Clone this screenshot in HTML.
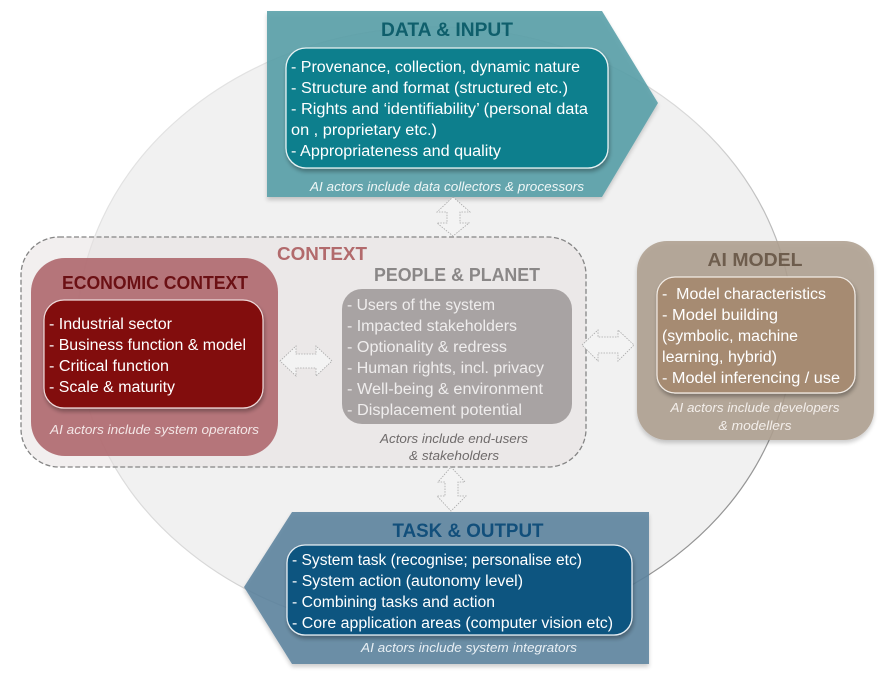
<!DOCTYPE html>
<html><head><meta charset="utf-8"><style>
html,body{margin:0;padding:0;background:#fff}
svg{display:block;filter:blur(0.35px)}
text{font-family:"Liberation Sans",sans-serif}
.b{font-weight:700}
.w{fill:#fff;font-size:15.5px}
.p{fill:#efeded;font-size:15.5px}
.i{font-style:italic;font-size:12.5px}
</style></head><body>
<svg width="887" height="676" viewBox="0 0 887 676" xmlns="http://www.w3.org/2000/svg">
<defs>
<filter id="s" x="-10%" y="-10%" width="120%" height="125%"><feGaussianBlur in="SourceAlpha" stdDeviation="2.2"/><feOffset dx="1" dy="3"/><feComponentTransfer><feFuncA type="linear" slope="0.32"/></feComponentTransfer><feMerge><feMergeNode/><feMergeNode in="SourceGraphic"/></feMerge></filter>
<filter id="o" x="-10%" y="-10%" width="120%" height="125%"><feGaussianBlur in="SourceAlpha" stdDeviation="2"/><feOffset dx="0" dy="3"/><feComponentTransfer><feFuncA type="linear" slope="0.22"/></feComponentTransfer><feMerge><feMergeNode/><feMergeNode in="SourceGraphic"/></feMerge></filter>
<linearGradient id="eg" x1="0" y1="0" x2="1" y2="0.9"><stop offset="0" stop-color="#e6e6e6"/><stop offset="0.55" stop-color="#d8d8d8"/><stop offset="1" stop-color="#7f7f7f"/></linearGradient>
</defs>
<ellipse cx="435" cy="331" rx="358" ry="304" fill="#f1f1f1" stroke="url(#eg)" stroke-width="1.2"/>

<rect x="21" y="237" width="565" height="230" rx="38" fill="#e6dfdf" fill-opacity="0.5" stroke="#858585" stroke-width="1.3" stroke-dasharray="5 2.5"/>

<!-- Data & input -->
<g filter="url(#o)"><polygon points="267,11 602,11 658,103 602,197 267,197" fill="#569ea7" fill-opacity="0.88"/></g>
<rect x="286" y="48" width="322" height="120" rx="20" fill="#0e7f8d" stroke="#e6f2f3" stroke-width="1.3" filter="url(#s)"/>
<text x="447" y="36" text-anchor="middle" class="b" font-size="19" fill="#0f5f6c" textLength="132" lengthAdjust="spacingAndGlyphs">DATA &amp; INPUT</text>
<text x="291" y="72" class="w" textLength="289" lengthAdjust="spacingAndGlyphs">- Provenance, collection, dynamic nature</text>
<text x="291" y="93" class="w" textLength="277" lengthAdjust="spacingAndGlyphs">- Structure and format (structured etc.)</text>
<text x="291" y="114" class="w" textLength="297" lengthAdjust="spacingAndGlyphs">- Rights and ‘identifiability’ (personal data</text>
<text x="291" y="135" class="w" textLength="146" lengthAdjust="spacingAndGlyphs">on , proprietary etc.)</text>
<text x="291" y="156" class="w" textLength="210" lengthAdjust="spacingAndGlyphs">- Appropriateness and quality</text>
<text x="310" y="191" class="i" fill="#eef6f6" textLength="274" lengthAdjust="spacingAndGlyphs">AI actors include data collectors &amp; processors</text>

<!-- Economic -->
<rect x="31" y="258" width="247" height="198" rx="34" fill="#ad646a" fill-opacity="0.88"/>
<rect x="44" y="300" width="219" height="108" rx="20" fill="#820c0e" stroke="#eed9d9" stroke-width="1.2" filter="url(#s)"/>
<text x="155" y="289" text-anchor="middle" class="b" font-size="18" fill="#6b1014" textLength="186" lengthAdjust="spacingAndGlyphs">ECONOMIC CONTEXT</text>
<text x="49" y="329" class="w" textLength="123" lengthAdjust="spacingAndGlyphs">- Industrial sector</text>
<text x="49" y="350" class="w" textLength="197" lengthAdjust="spacingAndGlyphs">- Business function &amp; model</text>
<text x="49" y="371" class="w" textLength="120" lengthAdjust="spacingAndGlyphs">- Critical function</text>
<text x="49" y="392" class="w" textLength="126" lengthAdjust="spacingAndGlyphs">- Scale &amp; maturity</text>
<text x="50" y="434" class="i" fill="#f3e6e6" textLength="209" lengthAdjust="spacingAndGlyphs">AI actors include system operators</text>

<!-- Context / people -->
<text x="322" y="260" text-anchor="middle" class="b" font-size="18" fill="#b26a6c" textLength="90" lengthAdjust="spacingAndGlyphs">CONTEXT</text>
<text x="457" y="281" text-anchor="middle" class="b" font-size="18" fill="#8a8787" textLength="166" lengthAdjust="spacingAndGlyphs">PEOPLE &amp; PLANET</text>
<rect x="342" y="289" width="230" height="135" rx="20" fill="#a8a3a3"/>
<text x="347" y="310" class="p" textLength="148" lengthAdjust="spacingAndGlyphs">- Users of the system</text>
<text x="347" y="331" class="p" textLength="170" lengthAdjust="spacingAndGlyphs">- Impacted stakeholders</text>
<text x="347" y="352" class="p" textLength="160" lengthAdjust="spacingAndGlyphs">- Optionality &amp; redress</text>
<text x="347" y="373" class="p" textLength="197" lengthAdjust="spacingAndGlyphs">- Human rights, incl. privacy</text>
<text x="347" y="394" class="p" textLength="196" lengthAdjust="spacingAndGlyphs">- Well-being &amp; environment</text>
<text x="347" y="415" class="p" textLength="175" lengthAdjust="spacingAndGlyphs">- Displacement potential</text>
<text x="454" y="443" text-anchor="middle" class="i" fill="#6f6b6b" textLength="148" lengthAdjust="spacingAndGlyphs">Actors include end-users</text>
<text x="454" y="460" text-anchor="middle" class="i" fill="#6f6b6b" textLength="90" lengthAdjust="spacingAndGlyphs">&amp; stakeholders</text>

<!-- AI model -->
<rect x="637" y="241" width="237" height="199" rx="30" fill="#ae9f90" fill-opacity="0.88" filter="url(#o)"/>
<rect x="657" y="277" width="198" height="116" rx="18" fill="#a68b72" stroke="#f2ece6" stroke-width="1.2" filter="url(#s)"/>
<text x="755" y="266" text-anchor="middle" class="b" font-size="18.5" fill="#6e5d4d" textLength="95" lengthAdjust="spacingAndGlyphs">AI MODEL</text>
<text x="662" y="299" class="w" textLength="164" lengthAdjust="spacingAndGlyphs" xml:space="preserve">-  Model characteristics</text>
<text x="662" y="320" class="w" textLength="116" lengthAdjust="spacingAndGlyphs">- Model building</text>
<text x="662" y="341" class="w" textLength="136" lengthAdjust="spacingAndGlyphs">(symbolic, machine</text>
<text x="662" y="362" class="w" textLength="115" lengthAdjust="spacingAndGlyphs">learning, hybrid)</text>
<text x="662" y="383" class="w" textLength="178" lengthAdjust="spacingAndGlyphs">- Model inferencing / use</text>
<text x="755" y="412" text-anchor="middle" class="i" fill="#f3eeea" textLength="169" lengthAdjust="spacingAndGlyphs">AI actors include developers</text>
<text x="755" y="430" text-anchor="middle" class="i" fill="#f3eeea" textLength="73" lengthAdjust="spacingAndGlyphs">&amp; modellers</text>

<!-- Task & output -->
<g filter="url(#o)"><polygon points="292,512 649,512 649,664 292,664 244,587" fill="#5c839e" fill-opacity="0.88"/></g>
<rect x="287" y="545" width="345" height="90" rx="18" fill="#105580" stroke="#e6eef3" stroke-width="1.3" filter="url(#s)"/>
<text x="468" y="537" text-anchor="middle" class="b" font-size="19" fill="#124f7b" textLength="151" lengthAdjust="spacingAndGlyphs">TASK &amp; OUTPUT</text>
<text x="292" y="565" class="w" textLength="290" lengthAdjust="spacingAndGlyphs">- System task (recognise; personalise etc)</text>
<text x="292" y="586" class="w" textLength="231" lengthAdjust="spacingAndGlyphs">- System action (autonomy level)</text>
<text x="292" y="607" class="w" textLength="203" lengthAdjust="spacingAndGlyphs">- Combining tasks and action</text>
<text x="292" y="628" class="w" textLength="321" lengthAdjust="spacingAndGlyphs">- Core application areas (computer vision etc)</text>
<text x="361" y="652" class="i" fill="#e8eff4" textLength="216" lengthAdjust="spacingAndGlyphs">AI actors include system integrators</text>

<!-- Arrows -->
<g fill="#f3f3f3" stroke="#a8a8a8" stroke-width="0.8" stroke-dasharray="1.5 1.2">
<polygon points="453,197 470,212 460,212 460,223 469,223 453,236 437,223 447,223 447,212 437,212"/>
<polygon points="451,467 465,482 458,482 458,496 466,496 451,511 437,496 445,496 445,482 438,482"/>
<polygon points="280,361 296,346 296,354 316,354 316,346 332,361 316,376 316,368 296,368 296,376"/>
<polygon points="582,345 598,330 598,337 618,337 618,330 634,345 618,361 618,353 598,353 598,361"/>
</g>
</svg>
</body></html>
